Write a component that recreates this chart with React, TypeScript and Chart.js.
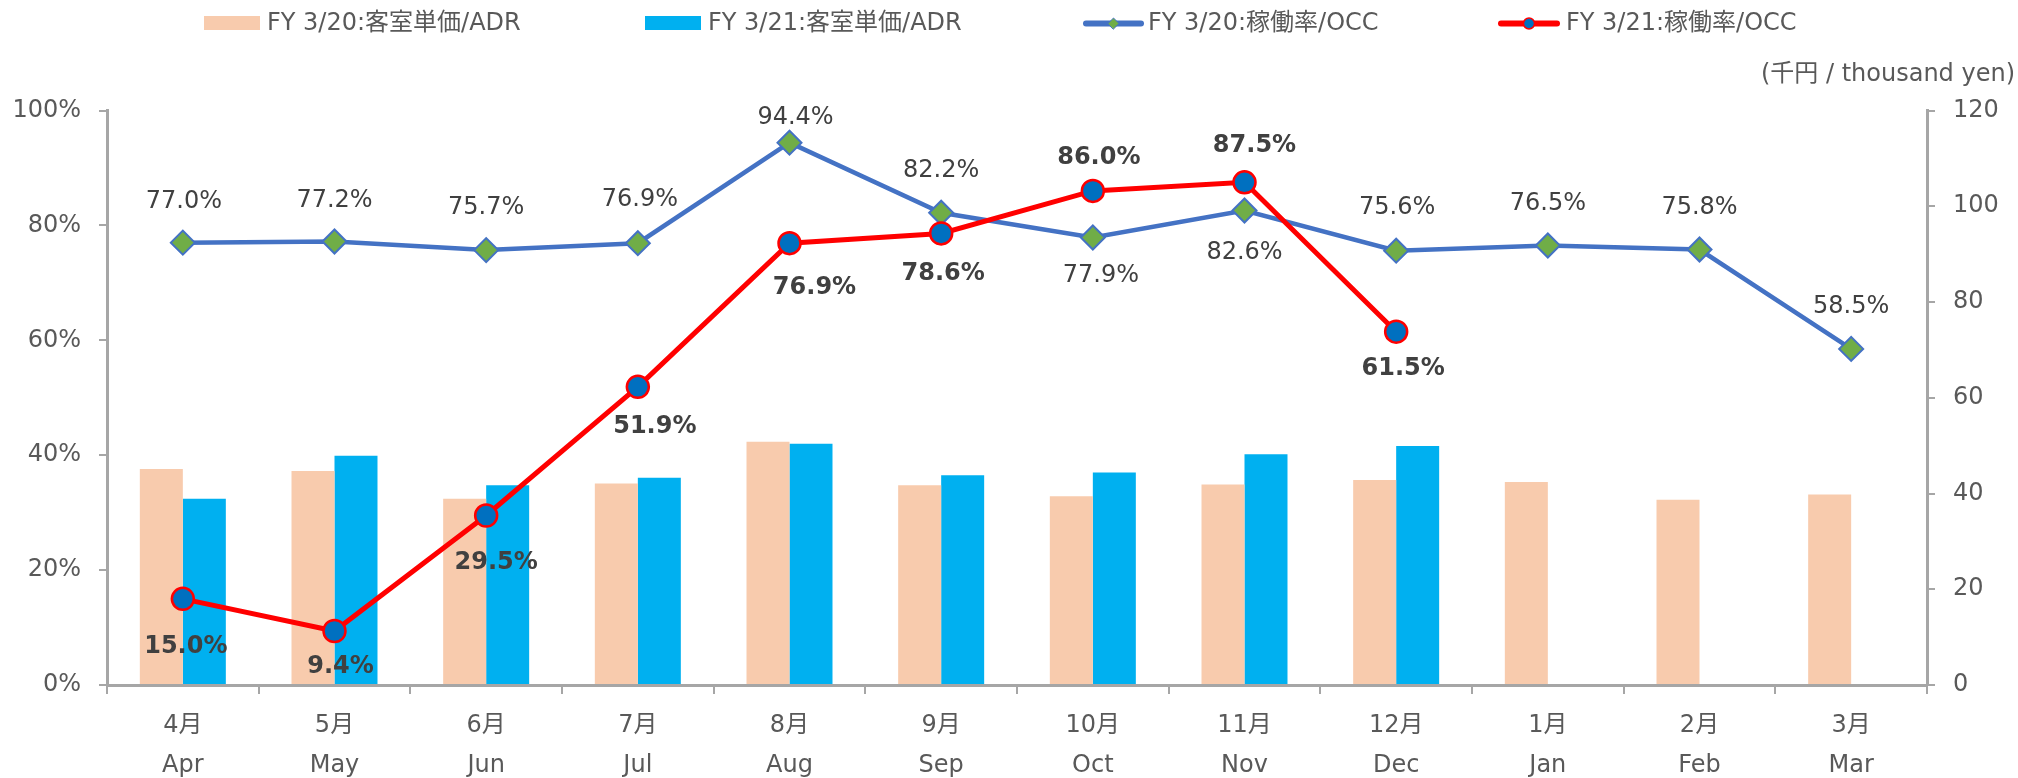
import React, { useEffect, useRef } from "react";
import { Chart, registerables } from "chart.js";

Chart.register(...registerables);

const monthsJa = ["4月", "5月", "6月", "7月", "8月", "9月", "10月", "11月", "12月", "1月", "2月", "3月"];
const monthsEn = ["Apr", "May", "Jun", "Jul", "Aug", "Sep", "Oct", "Nov", "Dec", "Jan", "Feb", "Mar"];

const adrFY20 = [45.1, 44.7, 38.9, 42.1, 50.8, 41.7, 39.4, 41.9, 42.8, 42.4, 38.7, 39.8];
const adrFY21 = [38.9, 47.9, 41.7, 43.3, 50.4, 43.8, 44.4, 48.2, 49.9];
const occFY20 = [77.0, 77.2, 75.7, 76.9, 94.4, 82.2, 77.9, 82.6, 75.6, 76.5, 75.8, 58.5];
const occFY21 = [15.0, 9.4, 29.5, 51.9, 76.9, 78.6, 86.0, 87.5, 61.5];

const leftTicksMax = 100;
const rightTicksMax = 120;
const tickStep = 20;

const seriesNames = [
  "FY 3/20:客室単価/ADR",
  "FY 3/21:客室単価/ADR",
  "FY 3/20:稼働率/OCC",
  "FY 3/21:稼働率/OCC",
];
const rightAxisUnit = "(千円 / thousand yen)";

// data-label placement (styling only): pixel offsets of each label from its point
const occFY20LabelDx = [1, 0, 0, 2, 6, 0, 8, 0, 1, 0, 0, 0];
const occFY20LabelDy = [-41, -41, -42, -43, -25, -42, 38, 42, -43, -42, -42, -42];
const occFY21LabelDx = [3, 6, 10, 17, 25, 2, 6, 10, 7];
const occFY21LabelDy = [48, 36, 47, 40, 45, 40, -33, -37, 37];

const FONT = '"DejaVu Sans", "Noto Sans CJK JP", sans-serif';
const C_FY20_BAR = "#F8CBAD";
const C_FY21_BAR = "#00B0F0";
const C_FY20_LINE = "#4472C4";
const C_FY20_MARK = "#70AD47";
const C_FY21_LINE = "#FF0000";
const C_FY21_MARK = "#0070C0";
const C_AXIS = "#A6A6A6";
const C_TEXT = "#595959";
const C_LABEL = "#404040";

const labelPlugin = {
  id: "occLabels",
  afterDatasetsDraw(chart: any) {
    const ctx = chart.ctx;
    ctx.save();
    ctx.textAlign = "center";
    ctx.textBaseline = "middle";
    ctx.fillStyle = C_LABEL;
    const m20 = chart.getDatasetMeta(2);
    ctx.font = `24px ${FONT}`;
    m20.data.forEach((pt: any, i: number) => {
      ctx.fillText(occFY20[i].toFixed(1) + "%", pt.x + occFY20LabelDx[i], pt.y + occFY20LabelDy[i]);
    });
    const m21 = chart.getDatasetMeta(3);
    ctx.font = `bold 24px ${FONT}`;
    m21.data.forEach((pt: any, i: number) => {
      ctx.fillText(occFY21[i].toFixed(1) + "%", pt.x + occFY21LabelDx[i], pt.y + occFY21LabelDy[i]);
    });
    ctx.restore();
  },
  afterDraw(chart: any) {
    const ctx = chart.ctx;
    ctx.save();
    // right axis unit
    ctx.font = `24px ${FONT}`;
    ctx.fillStyle = C_TEXT;
    ctx.textAlign = "right";
    ctx.textBaseline = "middle";
    ctx.fillText(rightAxisUnit, 2015, 75);

    // legend
    const cy = 23.5;
    ctx.textAlign = "left";
    const ds = chart.data.datasets;
    // item 1
    ctx.fillStyle = C_FY20_BAR;
    ctx.fillRect(204, 16, 56, 14);
    ctx.fillStyle = C_TEXT;
    ctx.fillText(ds[0].label, 267, cy);
    // item 2
    ctx.fillStyle = C_FY21_BAR;
    ctx.fillRect(645, 16, 56, 14);
    ctx.fillStyle = C_TEXT;
    ctx.fillText(ds[1].label, 708, cy);
    // item 3
    ctx.lineCap = "round";
    ctx.strokeStyle = C_FY20_LINE;
    ctx.lineWidth = 6;
    ctx.beginPath();
    ctx.moveTo(1086, cy);
    ctx.lineTo(1141, cy);
    ctx.stroke();
    ctx.beginPath();
    const mx = 1113.5;
    ctx.moveTo(mx - 5.5, cy);
    ctx.lineTo(mx, cy - 5.5);
    ctx.lineTo(mx + 5.5, cy);
    ctx.lineTo(mx, cy + 5.5);
    ctx.closePath();
    ctx.fillStyle = C_FY20_MARK;
    ctx.fill();
    ctx.lineWidth = 1;
    ctx.strokeStyle = C_FY20_LINE;
    ctx.stroke();
    ctx.fillStyle = C_TEXT;
    ctx.fillText(ds[2].label, 1148, cy);
    // item 4
    ctx.strokeStyle = C_FY21_LINE;
    ctx.lineWidth = 6;
    ctx.beginPath();
    ctx.moveTo(1501, cy);
    ctx.lineTo(1557, cy);
    ctx.stroke();
    ctx.beginPath();
    ctx.arc(1529, cy, 5.5, 0, Math.PI * 2);
    ctx.fillStyle = C_FY21_MARK;
    ctx.fill();
    ctx.lineWidth = 1.5;
    ctx.strokeStyle = C_FY21_LINE;
    ctx.stroke();
    ctx.fillStyle = C_TEXT;
    ctx.fillText(ds[3].label, 1566, cy);
    ctx.restore();
  },
};

export default function App() {
  const ref = useRef<HTMLCanvasElement | null>(null);

  useEffect(() => {
    if (!ref.current) return;
    const labels = monthsJa.map((m, i) => [m, monthsEn[i]]);
    const chart = new Chart(ref.current, {
      type: "bar",
      data: {
        labels,
        datasets: [
          {
            type: "bar",
            label: seriesNames[0],
            data: adrFY20,
            backgroundColor: C_FY20_BAR,
            yAxisID: "y1",
            order: 3,
            categoryPercentage: 0.567,
            barPercentage: 1,
          },
          {
            type: "bar",
            label: seriesNames[1],
            data: adrFY21,
            backgroundColor: C_FY21_BAR,
            yAxisID: "y1",
            order: 3,
            categoryPercentage: 0.567,
            barPercentage: 1,
          },
          {
            type: "line",
            label: seriesNames[2],
            data: occFY20,
            borderColor: C_FY20_LINE,
            borderWidth: 4.5,
            pointStyle: "rectRot",
            pointRadius: 12,
            pointBackgroundColor: C_FY20_MARK,
            pointBorderColor: C_FY20_LINE,
            pointBorderWidth: 2,
            yAxisID: "y",
            order: 2,
            tension: 0,
          },
          {
            type: "line",
            label: seriesNames[3],
            data: occFY21,
            borderColor: C_FY21_LINE,
            borderWidth: 5,
            pointStyle: "circle",
            pointRadius: 11,
            pointBackgroundColor: C_FY21_MARK,
            pointBorderColor: C_FY21_LINE,
            pointBorderWidth: 2.5,
            yAxisID: "y",
            order: 1,
            tension: 0,
          },
        ] as any,
      },
      options: {
        animation: false,
        responsive: false,
        layout: { padding: { top: 110.5, left: 0, right: 0, bottom: 0 } },
        plugins: {
          legend: { display: false },
          tooltip: { enabled: false },
        },
        scales: {
          x: {
            offset: true,
            grid: {
              display: true,
              drawOnChartArea: false,
              drawTicks: true,
              tickLength: 9,
              color: C_AXIS,
              lineWidth: 2,
              offset: true,
            },
            border: { display: true, color: C_AXIS, width: 3 },
            ticks: {
              color: C_TEXT,
              font: { family: FONT, size: 24, lineHeight: 1.7 },
              padding: 11,
              maxRotation: 0,
              autoSkip: false,
            },
            afterFit: (s: any) => {
              s.height = 93;
            },
          },
          y: {
            position: "left",
            min: 0,
            max: leftTicksMax,
            grid: {
              display: true,
              drawOnChartArea: false,
              tickLength: 8,
              color: C_AXIS,
              lineWidth: 2,
            },
            border: { display: true, color: C_AXIS, width: 3 },
            ticks: {
              stepSize: tickStep,
              color: C_TEXT,
              font: { family: FONT, size: 24 },
              padding: 18,
              callback: (v: any) => v + "%",
            },
            afterFit: (s: any) => {
              s.width = 107;
            },
          },
          y1: {
            position: "right",
            min: 0,
            max: rightTicksMax,
            grid: {
              display: true,
              drawOnChartArea: false,
              tickLength: 8,
              color: C_AXIS,
              lineWidth: 2,
            },
            border: { display: true, color: C_AXIS, width: 3 },
            ticks: {
              stepSize: tickStep,
              color: C_TEXT,
              font: { family: FONT, size: 24 },
              padding: 18,
            },
            afterFit: (s: any) => {
              s.width = 91;
            },
          },
        },
      } as any,
      plugins: [labelPlugin],
    });
    return () => chart.destroy();
  }, []);

  return (
    <div style={{ position: "absolute", left: 0, top: 0, width: 2018, height: 778, background: "#fff" }}>
      <canvas ref={ref} width={2018} height={778} style={{ display: "block" }} />
    </div>
  );
}
